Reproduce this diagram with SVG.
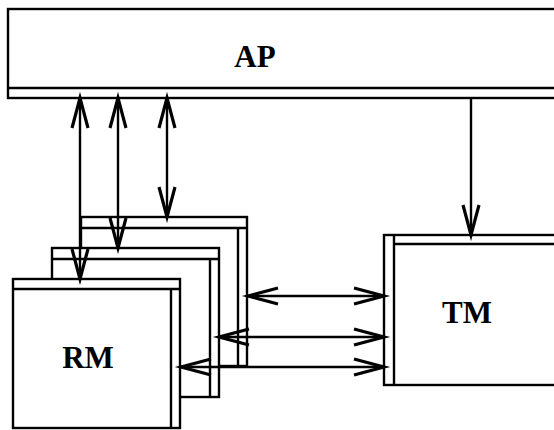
<svg xmlns="http://www.w3.org/2000/svg" width="554" height="430" viewBox="0 0 554 430">
  <defs>
    <style>
      .box { fill: #fff; stroke: #000; stroke-width: 2.4; }
      .ln { fill: none; stroke: #000; stroke-width: 2.4; }
      .conn { fill: none; stroke: #000; stroke-width: 2.4; }
      .lbl { font-family: "Liberation Serif", "Times New Roman", serif; font-weight: bold; font-size: 31px; fill: #000; text-anchor: middle; }
    </style>
    <marker id="head" markerUnits="userSpaceOnUse" markerWidth="40" markerHeight="24" viewBox="-32 -12 40 24" refX="0" refY="0" orient="auto-start-reverse" overflow="visible">
      <path d="M-30,-8 L0,0 L-30,8" fill="none" stroke="#000" stroke-width="3.2" stroke-linejoin="miter"/>
    </marker>
  </defs>

  <g id="RM3back">
    <rect class="box" x="81" y="217" width="166" height="149"/>
    <path class="ln" d="M81,228 H247 M238,228 V366"/>
  </g>
  <g id="RM2mid">
    <rect class="box" x="52" y="248" width="167" height="149"/>
    <path class="ln" d="M52,259 H219 M210,259 V397"/>
  </g>
  <g id="RM">
    <rect class="box" x="13" y="279" width="167" height="149"/>
    <path class="ln" d="M13,289 H180 M171,289 V428"/>
    <text class="lbl" x="88" y="368">RM</text>
  </g>
  <g id="TM">
    <rect class="box" x="384" y="235" width="180" height="150"/>
    <path class="ln" d="M394,235 V385 M394,244 H564"/>
    <text class="lbl" x="467" y="323">TM</text>
  </g>
  <g id="AP">
    <rect class="box" x="8" y="9" width="560" height="89"/>
    <path class="ln" d="M8,88 H568"/>
    <text class="lbl" x="255" y="67">AP</text>
  </g>

  <g id="connectors">
    <line class="conn" x1="80" y1="98" x2="80" y2="279" marker-start="url(#head)" marker-end="url(#head)"/>
    <line class="conn" x1="118" y1="98" x2="118" y2="248" marker-start="url(#head)" marker-end="url(#head)"/>
    <line class="conn" x1="167" y1="98" x2="167" y2="217" marker-start="url(#head)" marker-end="url(#head)"/>
    <line class="conn" x1="471" y1="98" x2="471" y2="235" marker-end="url(#head)"/>
    <line class="conn" x1="248" y1="296" x2="384" y2="296" marker-start="url(#head)" marker-end="url(#head)"/>
    <line class="conn" x1="219" y1="337" x2="384" y2="337" marker-start="url(#head)" marker-end="url(#head)"/>
    <line class="conn" x1="181" y1="367" x2="384" y2="367" marker-start="url(#head)" marker-end="url(#head)"/>
  </g>
</svg>
